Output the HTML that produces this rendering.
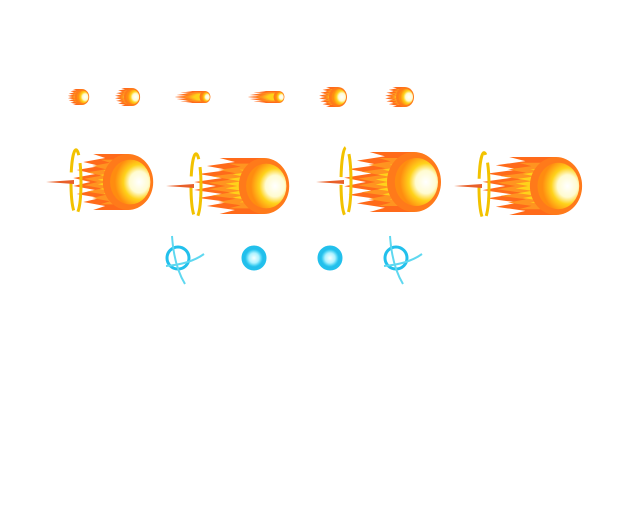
<!DOCTYPE html>
<html><head><meta charset="utf-8"><style>
html,body{margin:0;padding:0;background:#fff;width:626px;height:521px;overflow:hidden}
svg{display:block}
</style></head><body>
<svg id="s" width="626" height="521" viewBox="0 0 626 521">
<defs>
<radialGradient id="core" cx="0.72" cy="0.5" r="0.6">
<stop offset="0" stop-color="#ffffff"/><stop offset="0.4" stop-color="#fffbd0"/><stop offset="0.65" stop-color="#ffd21a"/><stop offset="1" stop-color="#ff8c10"/>
</radialGradient>
<radialGradient id="blue" cx="0.5" cy="0.5" r="0.5">
<stop offset="0" stop-color="#f4ffff"/><stop offset="0.45" stop-color="#aef2ff"/><stop offset="0.75" stop-color="#2cc8f0"/><stop offset="1" stop-color="#1aa6e0"/>
</radialGradient>
</defs>
</svg>
<script>
const NS='http://www.w3.org/2000/svg';
const svg=document.getElementById('s');
// [tailX, headX(center), cy, halfHeight, ring]
const bigFireballs=[[70,128,182,28,1],[190,264,186,28,1],[340,414,182,30,1],[478,556,186,29,1]];
const smallFireballs=[[67,82,97,8],[114,132,97,9],[173,205,97,6],[246,279,97,6],[318,338,97,10],[384,405,97,10]];
const blueOrbs=[[178,258,1],[254,258,0],[330,258,0],[396,258,1]];
function tail(x0,hx,cy,h,scale){
  const n=14;const L=hx-x0;
  let d='M'+hx+','+(cy-h*scale);
  for(let i=0;i<=n;i++){
    const t=i/n;const y=cy-h*scale+2*h*scale*t;
    const env=Math.abs(t-0.5)*2; // 0 center,1 edge
    const x=(i%2===0)?x0+L*(0.05+env*env*0.35):x0+L*(0.35+env*0.3);
    d+=' L'+x.toFixed(1)+','+y.toFixed(1);
  }
  d+=' L'+hx+','+(cy+h*scale)+' Z';
  return d;
}
function fireball(x0,hx,cy,h,name,ring){
  const g=document.createElementNS(NS,'g');svg.appendChild(g);
  
  
  const layers=[['#ff6a1a',1,x0],['#ff9420',0.8,x0+(hx-x0)*0.2],['#ffd21a',0.58,x0+(hx-x0)*0.45]];
  layers.forEach(Ly=>{const p=document.createElementNS(NS,'path');p.setAttribute('d',tail(Ly[2],hx,cy,h,Ly[1]));p.setAttribute('fill',Ly[0]);g.appendChild(p);});
  const e=document.createElementNS(NS,'ellipse');e.setAttribute('cx',hx);e.setAttribute('cy',cy);e.setAttribute('rx',h*0.9);e.setAttribute('ry',h);e.setAttribute('fill','#ff7a1a');g.appendChild(e);
  const c=document.createElementNS(NS,'ellipse');c.setAttribute('cx',hx+h*0.08);c.setAttribute('cy',cy);c.setAttribute('rx',h*0.72);c.setAttribute('ry',h*0.8);c.setAttribute('fill','url(#core)');g.appendChild(c);
  if(ring){const rg=document.createElementNS(NS,'ellipse');rg.setAttribute('cx',x0+6);rg.setAttribute('cy',cy);rg.setAttribute('rx',5);rg.setAttribute('ry',h*1.15);rg.setAttribute('fill','none');rg.setAttribute('stroke','#f2c200');rg.setAttribute('stroke-width','3');rg.setAttribute('stroke-dasharray','30 8');g.appendChild(rg);
  const sp=document.createElementNS(NS,'path');sp.setAttribute('d','M'+(x0-24)+','+cy+' L'+(x0+4)+','+(cy-2)+' L'+(x0+4)+','+(cy+2)+' Z');sp.setAttribute('fill','#e8602a');g.appendChild(sp);}
}
bigFireballs.forEach((f,i)=>fireball(f[0],f[1],f[2],f[3],'large-fireball-'+(i+1),f[4]));
smallFireballs.forEach((f,i)=>fireball(f[0],f[1],f[2],f[3],'small-fireball-'+(i+1),0));
blueOrbs.forEach((b,i)=>{
  const g=document.createElementNS(NS,'g');svg.appendChild(g);
  
  
  const c=document.createElementNS(NS,'circle');c.setAttribute('cx',b[0]);c.setAttribute('cy',b[1]);c.setAttribute('r',11);c.setAttribute('fill',b[2]?'none':'url(#blue)');c.setAttribute('stroke','#22c0ec');c.setAttribute('stroke-width','3');g.appendChild(c);
  if(b[2]){const p=document.createElementNS(NS,'path');p.setAttribute('d','M'+(b[0]-6)+','+(b[1]-22)+' Q'+(b[0]-4)+','+(b[1]+8)+' '+(b[0]+7)+','+(b[1]+26)+' M'+(b[0]-12)+','+(b[1]+8)+' Q'+(b[0]+12)+','+(b[1]+6)+' '+(b[0]+26)+','+(b[1]-4));p.setAttribute('fill','none');p.setAttribute('stroke','#5fd8f0');p.setAttribute('stroke-width','2');g.appendChild(p);}
});
</script>
</body></html>
